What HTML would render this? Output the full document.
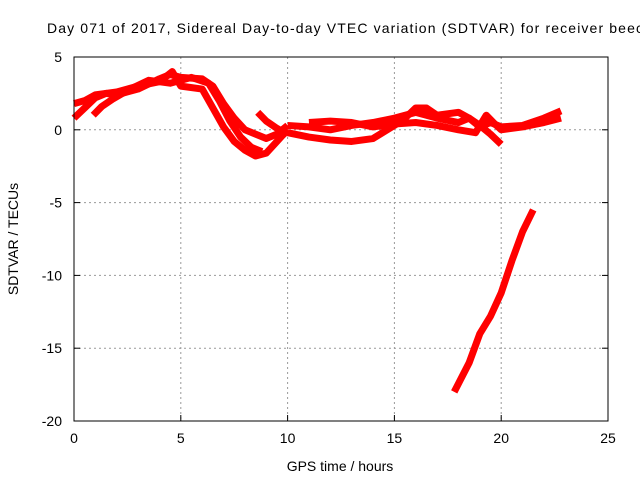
<!DOCTYPE html>
<html><head><meta charset="utf-8"><style>
body{margin:0;background:#fff}
svg{display:block;font-family:"Liberation Sans",sans-serif}
</style></head><body>
<svg id="chart" width="640" height="480" viewBox="0 0 640 480">
<rect width="640" height="480" fill="#fff"/>
<text x="47" y="33" font-size="14" textLength="596" lengthAdjust="spacing" fill="#000">Day 071 of 2017, Sidereal Day-to-day VTEC variation (SDTVAR) for receiver beec</text>
<g id="grid"></g>
<g id="series"></g>
<rect x="74" y="57" width="534" height="364" fill="none" stroke="#000" stroke-width="1"/>
<g id="ticks"></g>
<text x="340" y="471" font-size="14" text-anchor="middle">GPS time / hours</text>
<text transform="translate(18,239) rotate(-90)" font-size="14" text-anchor="middle">SDTVAR / TECUs</text>
</svg>
<script>
const xTicks=[0,5,10,15,20,25];
const yTicks=[5,0,-5,-10,-15,-20];
const s1=[[0,0.8],[0.5,1.5],[1,2.2],[1.5,2.5],[2,2.4],[3,2.8],[4,3.5],[4.5,3.8],[5,3.6],[6,3.5],[6.5,3.0],[7,1.8],[7.5,0.8],[8,0],[8.5,-0.3],[9,-0.6],[9.5,-0.3],[10,0.3]];
const s2=[[0,1.8],[0.5,2.0],[1,2.4],[2,2.6],[3,3.0],[4,3.3],[4.6,4.0],[5,3.0],[6,2.8],[6.5,1.5],[7,0.2],[7.5,-0.8],[8,-1.4],[8.5,-1.8],[9,-1.6],[9.5,-0.8],[10,0]];
const s3=[[0.9,1.0],[1.3,1.6],[1.8,2.1],[2.5,2.7],[3.5,3.4],[4.5,3.2],[5.5,3.6],[6.3,3.2],[6.8,2.0],[7.3,0.6],[7.8,-0.5],[8.3,-1.2],[8.8,-1.5]];
const s4=[[8.6,1.2],[9,0.6],[9.5,0.1],[10,-0.3]];
const s5=[[10,0.3],[11,0.2],[12,0],[13,0.3],[14,0.5],[15,0.8],[16,1.2],[16.5,1.0],[17,0.8],[18,0.5],[18.5,0.8],[19,0.3],[19.5,-0.3],[20,-1.0]];
const s6=[[10,-0.2],[11,-0.5],[12,-0.7],[13,-0.8],[14,-0.6],[15,0.3],[15.5,0.8],[16,1.5],[16.5,1.5],[17,1.0],[18,1.2],[18.5,0.8],[19,0.2],[19.5,0.5],[20,0.2],[21,0.3],[22,0.8],[22.8,1.3]];
const s7=[[11,0.5],[12,0.6],[13,0.5],[14,0.2],[15,0.4],[16,0.5],[17,0.3],[18,0.0],[18.8,-0.2],[19.3,1.0],[19.7,0.4],[20,0],[21,0.2],[22,0.5],[22.8,0.8]];
const s8=[[17.8,-18],[18.5,-16],[19,-14],[19.5,-12.8],[20,-11.2],[20.5,-9],[21,-7],[21.5,-5.5]];
const allSeries=[s1,s2,s3,s4,s5,s6,s7,s8];
const X=t=>74+t*534/25;
const Y=v=>57+(5-v)*364/25;
const NS='http://www.w3.org/2000/svg';
const grid=document.getElementById('grid'),ticks=document.getElementById('ticks'),ser=document.getElementById('series');
function mk(tag,attrs,parent){const e=document.createElementNS(NS,tag);for(const k in attrs)e.setAttribute(k,attrs[k]);parent.appendChild(e);return e;}
xTicks.forEach(t=>{
  if(t>0&&t<25){const g=mk('line',{x1:X(t),x2:X(t),y1:57,y2:421,stroke:'#999','stroke-dasharray':'2,3'},grid);
  
  }
  const tk=mk('line',{x1:X(t),x2:X(t),y1:421,y2:415,stroke:'#000'},ticks);
  
  
  const lb=mk('text',{x:X(t),y:443,'font-size':14,'text-anchor':'middle'},ticks);lb.textContent=t;
  
  
});
yTicks.forEach(v=>{
  if(v<5&&v>-20){const g=mk('line',{x1:74,x2:608,y1:Y(v),y2:Y(v),stroke:'#999','stroke-dasharray':'2,3'},grid);
  
  }
  const tk=mk('line',{x1:74,x2:80,y1:Y(v),y2:Y(v),stroke:'#000'},ticks);
  
  
  const tk2=mk('line',{x1:602,x2:608,y1:Y(v),y2:Y(v),stroke:'#000'},ticks);
  
  
  const lb=mk('text',{x:62,y:Y(v)+5,'font-size':14,'text-anchor':'end'},ticks);lb.textContent=v;
  
  
});
allSeries.forEach((s,i)=>{
  const p=mk('polyline',{points:s.map(d=>X(d[0])+','+Y(d[1])).join(' '),fill:'none',stroke:'#f00','stroke-width':7,'stroke-linejoin':'round','stroke-linecap':'butt'},ser);
  
  
});
</script>
</body></html>
